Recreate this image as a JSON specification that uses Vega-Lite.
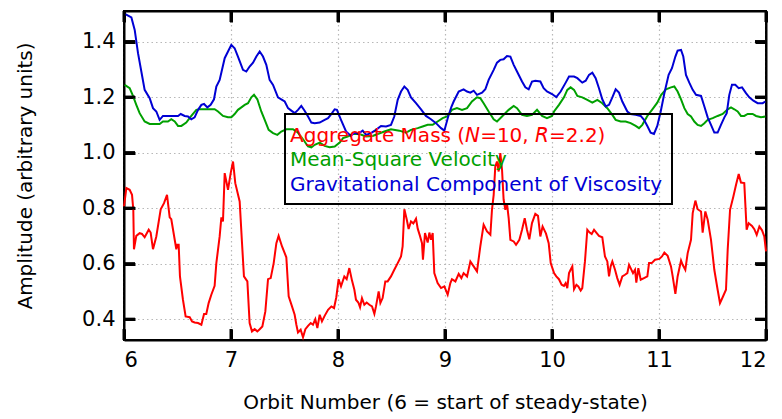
{
"$schema": "https://vega.github.io/schema/vega-lite/v6.json",
"width": 642, "height": 329,
"autosize": "none",
"padding": {"left": 124, "top": 11, "right": 16, "bottom": 79},
"background": "white",
"config": {
  "view": {"stroke": "black", "strokeWidth": 2},
  "legend": {"orient": "none", "legendX": 161, "legendY": 103, "title": null, "symbolSize": 625, "symbolOpacity": 0, "symbolStrokeWidth": 0, "labelOffset": -29, "labelFont": "DejaVu Sans", "labelFontSize": 20, "labelLimit": 0, "padding": 9, "rowPadding": 1.5, "strokeColor": "black"}
},
"datasets": {
"xticks": [{"v":6},{"v":7},{"v":8},{"v":9},{"v":10},{"v":11},{"v":12}],
"yticks": [{"v":0.4},{"v":0.6},{"v":0.8},{"v":1.0},{"v":1.2},{"v":1.4}],
"green": [
{"x":6.006,"y":1.244},{"x":6.053,"y":1.232},{"x":6.084,"y":1.204},{"x":6.115,"y":1.172},{"x":6.146,"y":1.142},{"x":6.193,"y":1.112},{"x":6.240,"y":1.103},{"x":6.333,"y":1.103},{"x":6.364,"y":1.112},{"x":6.411,"y":1.112},{"x":6.442,"y":1.120},{"x":6.474,"y":1.112},{"x":6.505,"y":1.096},{"x":6.536,"y":1.096},{"x":6.582,"y":1.108},{"x":6.629,"y":1.132},{"x":6.676,"y":1.154},{"x":6.707,"y":1.156},{"x":6.847,"y":1.156},{"x":6.879,"y":1.148},{"x":6.925,"y":1.132},{"x":6.972,"y":1.127},{"x":7.003,"y":1.127},{"x":7.034,"y":1.139},{"x":7.065,"y":1.154},{"x":7.097,"y":1.163},{"x":7.128,"y":1.172},{"x":7.159,"y":1.178},{"x":7.190,"y":1.199},{"x":7.215,"y":1.208},{"x":7.246,"y":1.192},{"x":7.283,"y":1.148},{"x":7.315,"y":1.118},{"x":7.352,"y":1.082},{"x":7.393,"y":1.070},{"x":7.433,"y":1.064},{"x":7.470,"y":1.076},{"x":7.517,"y":1.084},{"x":7.579,"y":1.084},{"x":7.626,"y":1.072},{"x":7.673,"y":1.048},{"x":7.720,"y":1.022},{"x":7.751,"y":1.019},{"x":7.782,"y":1.028},{"x":7.829,"y":1.036},{"x":7.875,"y":1.024},{"x":7.922,"y":1.019},{"x":7.969,"y":1.022},{"x":8.016,"y":1.036},{"x":8.047,"y":1.052},{"x":8.090,"y":1.058},{"x":8.137,"y":1.067},{"x":8.199,"y":1.067},{"x":8.262,"y":1.058},{"x":8.324,"y":1.060},{"x":8.371,"y":1.067},{"x":8.433,"y":1.076},{"x":8.495,"y":1.084},{"x":8.573,"y":1.079},{"x":8.636,"y":1.072},{"x":8.682,"y":1.082},{"x":8.745,"y":1.088},{"x":8.791,"y":1.094},{"x":8.838,"y":1.100},{"x":8.885,"y":1.100},{"x":8.931,"y":1.112},{"x":8.978,"y":1.124},{"x":9.019,"y":1.130},{"x":9.065,"y":1.154},{"x":9.112,"y":1.160},{"x":9.159,"y":1.154},{"x":9.206,"y":1.160},{"x":9.252,"y":1.184},{"x":9.299,"y":1.199},{"x":9.330,"y":1.196},{"x":9.361,"y":1.178},{"x":9.408,"y":1.148},{"x":9.455,"y":1.120},{"x":9.486,"y":1.112},{"x":9.533,"y":1.130},{"x":9.595,"y":1.154},{"x":9.642,"y":1.168},{"x":9.673,"y":1.160},{"x":9.720,"y":1.136},{"x":9.766,"y":1.132},{"x":9.813,"y":1.136},{"x":9.860,"y":1.154},{"x":9.907,"y":1.132},{"x":9.953,"y":1.124},{"x":10.000,"y":1.132},{"x":10.019,"y":1.148},{"x":10.065,"y":1.172},{"x":10.112,"y":1.199},{"x":10.143,"y":1.226},{"x":10.174,"y":1.235},{"x":10.206,"y":1.226},{"x":10.237,"y":1.204},{"x":10.283,"y":1.199},{"x":10.330,"y":1.190},{"x":10.377,"y":1.180},{"x":10.424,"y":1.190},{"x":10.470,"y":1.178},{"x":10.517,"y":1.160},{"x":10.564,"y":1.136},{"x":10.595,"y":1.118},{"x":10.642,"y":1.112},{"x":10.688,"y":1.112},{"x":10.735,"y":1.106},{"x":10.782,"y":1.096},{"x":10.813,"y":1.088},{"x":10.844,"y":1.100},{"x":10.891,"y":1.132},{"x":10.938,"y":1.156},{"x":10.984,"y":1.180},{"x":11.019,"y":1.207},{"x":11.065,"y":1.228},{"x":11.112,"y":1.235},{"x":11.143,"y":1.238},{"x":11.174,"y":1.220},{"x":11.206,"y":1.192},{"x":11.237,"y":1.160},{"x":11.268,"y":1.139},{"x":11.299,"y":1.130},{"x":11.330,"y":1.112},{"x":11.361,"y":1.100},{"x":11.393,"y":1.096},{"x":11.424,"y":1.106},{"x":11.455,"y":1.118},{"x":11.502,"y":1.124},{"x":11.548,"y":1.132},{"x":11.595,"y":1.139},{"x":11.642,"y":1.156},{"x":11.673,"y":1.163},{"x":11.704,"y":1.156},{"x":11.735,"y":1.148},{"x":11.766,"y":1.132},{"x":11.797,"y":1.132},{"x":11.829,"y":1.139},{"x":11.875,"y":1.139},{"x":11.907,"y":1.132},{"x":11.953,"y":1.127},{"x":11.994,"y":1.130}
],
"blue": [
{"x":6.012,"y":1.499},{"x":6.069,"y":1.487},{"x":6.100,"y":1.442},{"x":6.131,"y":1.358},{"x":6.162,"y":1.292},{"x":6.193,"y":1.226},{"x":6.240,"y":1.196},{"x":6.271,"y":1.160},{"x":6.302,"y":1.148},{"x":6.333,"y":1.118},{"x":6.364,"y":1.132},{"x":6.505,"y":1.132},{"x":6.530,"y":1.139},{"x":6.567,"y":1.132},{"x":6.598,"y":1.130},{"x":6.629,"y":1.120},{"x":6.660,"y":1.127},{"x":6.692,"y":1.154},{"x":6.723,"y":1.172},{"x":6.748,"y":1.175},{"x":6.779,"y":1.163},{"x":6.810,"y":1.172},{"x":6.841,"y":1.192},{"x":6.863,"y":1.238},{"x":6.894,"y":1.262},{"x":6.941,"y":1.340},{"x":6.972,"y":1.364},{"x":7.003,"y":1.388},{"x":7.034,"y":1.376},{"x":7.065,"y":1.346},{"x":7.112,"y":1.298},{"x":7.143,"y":1.292},{"x":7.174,"y":1.310},{"x":7.206,"y":1.324},{"x":7.237,"y":1.346},{"x":7.268,"y":1.364},{"x":7.299,"y":1.346},{"x":7.330,"y":1.316},{"x":7.361,"y":1.262},{"x":7.393,"y":1.244},{"x":7.439,"y":1.199},{"x":7.470,"y":1.192},{"x":7.502,"y":1.184},{"x":7.533,"y":1.160},{"x":7.564,"y":1.151},{"x":7.595,"y":1.142},{"x":7.626,"y":1.154},{"x":7.657,"y":1.168},{"x":7.688,"y":1.151},{"x":7.720,"y":1.130},{"x":7.751,"y":1.108},{"x":7.782,"y":1.106},{"x":7.829,"y":1.108},{"x":7.875,"y":1.118},{"x":7.907,"y":1.124},{"x":7.944,"y":1.142},{"x":7.969,"y":1.156},{"x":7.990,"y":1.154},{"x":8.028,"y":1.118},{"x":8.075,"y":1.076},{"x":8.121,"y":1.060},{"x":8.153,"y":1.072},{"x":8.184,"y":1.067},{"x":8.231,"y":1.079},{"x":8.262,"y":1.064},{"x":8.308,"y":1.070},{"x":8.355,"y":1.082},{"x":8.402,"y":1.096},{"x":8.449,"y":1.094},{"x":8.495,"y":1.100},{"x":8.526,"y":1.130},{"x":8.558,"y":1.190},{"x":8.589,"y":1.220},{"x":8.620,"y":1.238},{"x":8.651,"y":1.226},{"x":8.682,"y":1.199},{"x":8.729,"y":1.178},{"x":8.776,"y":1.156},{"x":8.822,"y":1.132},{"x":8.869,"y":1.120},{"x":8.916,"y":1.106},{"x":8.963,"y":1.088},{"x":8.994,"y":1.079},{"x":9.030,"y":1.130},{"x":9.060,"y":1.165},{"x":9.081,"y":1.184},{"x":9.128,"y":1.220},{"x":9.174,"y":1.228},{"x":9.206,"y":1.220},{"x":9.237,"y":1.216},{"x":9.268,"y":1.223},{"x":9.299,"y":1.208},{"x":9.346,"y":1.216},{"x":9.377,"y":1.228},{"x":9.408,"y":1.262},{"x":9.455,"y":1.298},{"x":9.486,"y":1.324},{"x":9.517,"y":1.334},{"x":9.548,"y":1.336},{"x":9.579,"y":1.348},{"x":9.611,"y":1.346},{"x":9.642,"y":1.316},{"x":9.673,"y":1.292},{"x":9.720,"y":1.256},{"x":9.751,"y":1.235},{"x":9.782,"y":1.228},{"x":9.813,"y":1.256},{"x":9.844,"y":1.259},{"x":9.891,"y":1.256},{"x":9.922,"y":1.232},{"x":9.953,"y":1.220},{"x":10.000,"y":1.211},{"x":10.040,"y":1.200},{"x":10.081,"y":1.220},{"x":10.128,"y":1.252},{"x":10.159,"y":1.274},{"x":10.206,"y":1.274},{"x":10.237,"y":1.268},{"x":10.283,"y":1.252},{"x":10.315,"y":1.259},{"x":10.346,"y":1.280},{"x":10.377,"y":1.288},{"x":10.408,"y":1.268},{"x":10.439,"y":1.232},{"x":10.470,"y":1.192},{"x":10.502,"y":1.166},{"x":10.533,"y":1.172},{"x":10.564,"y":1.199},{"x":10.595,"y":1.228},{"x":10.626,"y":1.216},{"x":10.657,"y":1.184},{"x":10.704,"y":1.148},{"x":10.735,"y":1.139},{"x":10.782,"y":1.136},{"x":10.829,"y":1.132},{"x":10.860,"y":1.118},{"x":10.891,"y":1.096},{"x":10.922,"y":1.072},{"x":10.953,"y":1.067},{"x":10.984,"y":1.096},{"x":11.016,"y":1.148},{"x":11.050,"y":1.214},{"x":11.090,"y":1.280},{"x":11.121,"y":1.304},{"x":11.153,"y":1.346},{"x":11.174,"y":1.367},{"x":11.206,"y":1.370},{"x":11.227,"y":1.346},{"x":11.252,"y":1.280},{"x":11.283,"y":1.252},{"x":11.315,"y":1.226},{"x":11.346,"y":1.208},{"x":11.393,"y":1.204},{"x":11.424,"y":1.166},{"x":11.455,"y":1.127},{"x":11.486,"y":1.100},{"x":11.517,"y":1.072},{"x":11.548,"y":1.072},{"x":11.579,"y":1.100},{"x":11.611,"y":1.127},{"x":11.633,"y":1.142},{"x":11.657,"y":1.208},{"x":11.682,"y":1.244},{"x":11.713,"y":1.244},{"x":11.745,"y":1.232},{"x":11.776,"y":1.235},{"x":11.813,"y":1.214},{"x":11.844,"y":1.199},{"x":11.882,"y":1.187},{"x":11.922,"y":1.178},{"x":11.969,"y":1.178},{"x":11.994,"y":1.184}
],
"red": [
{"x":6.000,"y":0.806},{"x":6.022,"y":0.872},{"x":6.053,"y":0.866},{"x":6.075,"y":0.848},{"x":6.087,"y":0.794},{"x":6.093,"y":0.652},{"x":6.115,"y":0.700},{"x":6.146,"y":0.710},{"x":6.168,"y":0.707},{"x":6.193,"y":0.695},{"x":6.231,"y":0.722},{"x":6.249,"y":0.712},{"x":6.271,"y":0.652},{"x":6.302,"y":0.698},{"x":6.343,"y":0.796},{"x":6.374,"y":0.818},{"x":6.402,"y":0.848},{"x":6.427,"y":0.767},{"x":6.442,"y":0.760},{"x":6.474,"y":0.686},{"x":6.489,"y":0.652},{"x":6.498,"y":0.668},{"x":6.511,"y":0.668},{"x":6.523,"y":0.554},{"x":6.551,"y":0.470},{"x":6.576,"y":0.410},{"x":6.614,"y":0.407},{"x":6.636,"y":0.392},{"x":6.660,"y":0.388},{"x":6.692,"y":0.386},{"x":6.723,"y":0.380},{"x":6.748,"y":0.419},{"x":6.769,"y":0.419},{"x":6.791,"y":0.458},{"x":6.816,"y":0.488},{"x":6.847,"y":0.520},{"x":6.863,"y":0.602},{"x":6.894,"y":0.698},{"x":6.910,"y":0.767},{"x":6.925,"y":0.752},{"x":6.941,"y":0.926},{"x":6.972,"y":0.866},{"x":6.997,"y":0.926},{"x":7.019,"y":0.968},{"x":7.040,"y":0.890},{"x":7.081,"y":0.824},{"x":7.103,"y":0.674},{"x":7.121,"y":0.554},{"x":7.153,"y":0.536},{"x":7.174,"y":0.386},{"x":7.196,"y":0.356},{"x":7.221,"y":0.364},{"x":7.246,"y":0.356},{"x":7.268,"y":0.364},{"x":7.293,"y":0.374},{"x":7.321,"y":0.428},{"x":7.346,"y":0.544},{"x":7.371,"y":0.548},{"x":7.399,"y":0.602},{"x":7.424,"y":0.674},{"x":7.445,"y":0.700},{"x":7.477,"y":0.662},{"x":7.517,"y":0.623},{"x":7.539,"y":0.482},{"x":7.570,"y":0.446},{"x":7.595,"y":0.416},{"x":7.611,"y":0.380},{"x":7.626,"y":0.352},{"x":7.651,"y":0.362},{"x":7.673,"y":0.335},{"x":7.695,"y":0.364},{"x":7.720,"y":0.376},{"x":7.745,"y":0.386},{"x":7.766,"y":0.380},{"x":7.788,"y":0.400},{"x":7.807,"y":0.368},{"x":7.829,"y":0.416},{"x":7.850,"y":0.392},{"x":7.875,"y":0.412},{"x":7.907,"y":0.434},{"x":7.938,"y":0.446},{"x":7.963,"y":0.440},{"x":7.984,"y":0.479},{"x":8.006,"y":0.544},{"x":8.028,"y":0.518},{"x":8.059,"y":0.554},{"x":8.081,"y":0.544},{"x":8.106,"y":0.584},{"x":8.131,"y":0.539},{"x":8.153,"y":0.506},{"x":8.168,"y":0.470},{"x":8.190,"y":0.460},{"x":8.206,"y":0.443},{"x":8.224,"y":0.476},{"x":8.246,"y":0.452},{"x":8.268,"y":0.460},{"x":8.293,"y":0.452},{"x":8.318,"y":0.446},{"x":8.340,"y":0.419},{"x":8.355,"y":0.446},{"x":8.380,"y":0.500},{"x":8.396,"y":0.458},{"x":8.417,"y":0.476},{"x":8.442,"y":0.536},{"x":8.464,"y":0.536},{"x":8.495,"y":0.554},{"x":8.526,"y":0.578},{"x":8.558,"y":0.602},{"x":8.589,"y":0.626},{"x":8.604,"y":0.662},{"x":8.620,"y":0.796},{"x":8.642,"y":0.760},{"x":8.660,"y":0.725},{"x":8.682,"y":0.752},{"x":8.704,"y":0.745},{"x":8.729,"y":0.762},{"x":8.745,"y":0.726},{"x":8.766,"y":0.700},{"x":8.785,"y":0.674},{"x":8.794,"y":0.614},{"x":8.813,"y":0.710},{"x":8.838,"y":0.676},{"x":8.854,"y":0.712},{"x":8.869,"y":0.686},{"x":8.885,"y":0.710},{"x":8.900,"y":0.566},{"x":8.931,"y":0.530},{"x":8.963,"y":0.512},{"x":8.994,"y":0.518},{"x":9.025,"y":0.488},{"x":9.050,"y":0.530},{"x":9.065,"y":0.544},{"x":9.097,"y":0.536},{"x":9.128,"y":0.563},{"x":9.153,"y":0.548},{"x":9.174,"y":0.566},{"x":9.206,"y":0.554},{"x":9.237,"y":0.608},{"x":9.268,"y":0.590},{"x":9.299,"y":0.572},{"x":9.330,"y":0.662},{"x":9.361,"y":0.740},{"x":9.393,"y":0.716},{"x":9.424,"y":0.704},{"x":9.439,"y":0.794},{"x":9.455,"y":0.848},{"x":9.470,"y":0.950},{"x":9.486,"y":0.968},{"x":9.502,"y":0.932},{"x":9.517,"y":0.998},{"x":9.533,"y":0.938},{"x":9.548,"y":0.830},{"x":9.564,"y":0.794},{"x":9.579,"y":0.818},{"x":9.595,"y":0.764},{"x":9.611,"y":0.686},{"x":9.642,"y":0.680},{"x":9.664,"y":0.668},{"x":9.695,"y":0.686},{"x":9.720,"y":0.722},{"x":9.745,"y":0.764},{"x":9.766,"y":0.722},{"x":9.788,"y":0.688},{"x":9.813,"y":0.746},{"x":9.844,"y":0.779},{"x":9.869,"y":0.772},{"x":9.891,"y":0.698},{"x":9.912,"y":0.734},{"x":9.944,"y":0.708},{"x":9.969,"y":0.674},{"x":9.988,"y":0.602},{"x":10.019,"y":0.566},{"x":10.040,"y":0.554},{"x":10.065,"y":0.544},{"x":10.090,"y":0.524},{"x":10.112,"y":0.520},{"x":10.128,"y":0.530},{"x":10.143,"y":0.512},{"x":10.159,"y":0.566},{"x":10.174,"y":0.578},{"x":10.190,"y":0.590},{"x":10.206,"y":0.508},{"x":10.228,"y":0.524},{"x":10.246,"y":0.518},{"x":10.268,"y":0.503},{"x":10.283,"y":0.512},{"x":10.308,"y":0.608},{"x":10.330,"y":0.722},{"x":10.352,"y":0.712},{"x":10.371,"y":0.707},{"x":10.393,"y":0.722},{"x":10.414,"y":0.712},{"x":10.439,"y":0.700},{"x":10.470,"y":0.695},{"x":10.495,"y":0.626},{"x":10.517,"y":0.608},{"x":10.533,"y":0.554},{"x":10.548,"y":0.590},{"x":10.564,"y":0.608},{"x":10.589,"y":0.578},{"x":10.610,"y":0.548},{"x":10.632,"y":0.524},{"x":10.657,"y":0.554},{"x":10.682,"y":0.560},{"x":10.704,"y":0.566},{"x":10.720,"y":0.596},{"x":10.735,"y":0.584},{"x":10.757,"y":0.566},{"x":10.776,"y":0.578},{"x":10.788,"y":0.532},{"x":10.807,"y":0.584},{"x":10.829,"y":0.542},{"x":10.860,"y":0.548},{"x":10.891,"y":0.554},{"x":10.907,"y":0.602},{"x":10.932,"y":0.602},{"x":10.963,"y":0.614},{"x":11.003,"y":0.617},{"x":11.028,"y":0.626},{"x":11.050,"y":0.640},{"x":11.081,"y":0.628},{"x":11.112,"y":0.590},{"x":11.128,"y":0.554},{"x":11.153,"y":0.491},{"x":11.174,"y":0.554},{"x":11.206,"y":0.611},{"x":11.221,"y":0.596},{"x":11.246,"y":0.578},{"x":11.268,"y":0.638},{"x":11.299,"y":0.686},{"x":11.315,"y":0.782},{"x":11.340,"y":0.827},{"x":11.361,"y":0.796},{"x":11.393,"y":0.788},{"x":11.408,"y":0.712},{"x":11.433,"y":0.788},{"x":11.455,"y":0.758},{"x":11.486,"y":0.686},{"x":11.517,"y":0.578},{"x":11.548,"y":0.506},{"x":11.570,"y":0.458},{"x":11.595,"y":0.479},{"x":11.626,"y":0.506},{"x":11.642,"y":0.650},{"x":11.664,"y":0.794},{"x":11.695,"y":0.842},{"x":11.720,"y":0.884},{"x":11.745,"y":0.923},{"x":11.766,"y":0.892},{"x":11.797,"y":0.890},{"x":11.819,"y":0.722},{"x":11.838,"y":0.746},{"x":11.869,"y":0.736},{"x":11.891,"y":0.724},{"x":11.913,"y":0.704},{"x":11.938,"y":0.734},{"x":11.963,"y":0.720},{"x":11.984,"y":0.698},{"x":12.000,"y":0.644}
]
},
"layer": [
{
  "data": {"name": "green"},
  "mark": {"type": "line", "strokeWidth": 2},
  "encoding": {
    "x": {"field": "x", "type": "quantitative", "scale": {"domain": [6, 12], "nice": false}, "axis": {"orient": "bottom", "values": [6,7,8,9,10,11,12], "format": "d", "grid": true, "gridColor": "#b8b8b8", "gridDash": [1.5, 3], "gridWidth": 1.2, "domainColor": "black", "domainWidth": 2, "tickColor": "black", "tickSize": -11, "tickWidth": 3, "labelPadding": 20, "labelFont": "DejaVu Sans", "labelFontSize": 21, "labelColor": "black", "titleFont": "DejaVu Sans", "titleFontSize": 20, "titleFontWeight": "normal", "titleColor": "black", "title": "Orbit Number (6 = start of steady-state)", "titlePadding": 22}},
    "y": {"field": "y", "type": "quantitative", "scale": {"domain": [0.325, 1.51], "nice": false, "zero": false}, "axis": {"orient": "left", "values": [0.4,0.6,0.8,1.0,1.2,1.4], "format": ".1f", "grid": true, "gridColor": "#b8b8b8", "gridDash": [1.5, 3], "gridWidth": 1.2, "domainColor": "black", "domainWidth": 2, "tickColor": "black", "tickSize": -11, "tickWidth": 3, "labelPadding": 20, "labelFont": "DejaVu Sans", "labelFontSize": 21, "labelColor": "black", "titleFont": "DejaVu Sans", "titleFontSize": 20, "titleFontWeight": "normal", "titleColor": "black", "title": "Amplitude (arbitrary units)", "titlePadding": 46}},
    "color": {"datum": "Mean-Square Velocity", "type": "nominal",
      "scale": {"domain": ["Aggregate Mass (\ud835\ude15=10, \ud835\ude19=2.2)", "Mean-Square Velocity", "Gravitational Component of Viscosity"], "range": ["#ff0000", "#00a000", "#0000d4"]},
      "legend": {"encode": {"labels": {"update": {"fill": {"scale": "color", "field": "value"}}}, "legend": {"update": {"stroke": {"value": "black"}, "strokeWidth": {"value": 2}}}}}}
  }
},
{
  "data": {"name": "blue"},
  "mark": {"type": "line", "strokeWidth": 2},
  "encoding": {
    "x": {"field": "x", "type": "quantitative", "axis": {"orient": "top", "values": [6,7,8,9,10,11,12], "labels": false, "grid": false, "domainColor": "black", "domainWidth": 2, "tickColor": "black", "tickSize": -11, "tickWidth": 3, "title": null}},
    "y": {"field": "y", "type": "quantitative", "axis": {"orient": "right", "values": [0.4,0.6,0.8,1.0,1.2,1.4], "labels": false, "grid": false, "domainColor": "black", "domainWidth": 2, "tickColor": "black", "tickSize": -11, "tickWidth": 3, "title": null}},
    "color": {"datum": "Gravitational Component of Viscosity", "type": "nominal"}
  }
},
{
  "data": {"name": "red"},
  "mark": {"type": "line", "strokeWidth": 2},
  "encoding": {
    "x": {"field": "x", "type": "quantitative", "axis": null},
    "y": {"field": "y", "type": "quantitative", "axis": null},
    "color": {"datum": "Aggregate Mass (\ud835\ude15=10, \ud835\ude19=2.2)", "type": "nominal"}
  }
},
{
  "data": {"name": "xticks"},
  "mark": {"type": "rule", "color": "black", "strokeWidth": 3},
  "encoding": {
    "x": {"field": "v", "type": "quantitative", "axis": null},
    "y": {"datum": 0.325, "type": "quantitative", "axis": null},
    "y2": {"datum": 0.3646}
  }
},
{
  "data": {"name": "xticks"},
  "mark": {"type": "rule", "color": "black", "strokeWidth": 3},
  "encoding": {
    "x": {"field": "v", "type": "quantitative", "axis": null},
    "y": {"datum": 1.51, "type": "quantitative", "axis": null},
    "y2": {"datum": 1.4704}
  }
},
{
  "data": {"name": "yticks"},
  "mark": {"type": "rule", "color": "black", "strokeWidth": 3},
  "encoding": {
    "y": {"field": "v", "type": "quantitative", "axis": null},
    "x": {"datum": 6, "type": "quantitative", "axis": null},
    "x2": {"datum": 6.1028}
  }
},
{
  "data": {"name": "yticks"},
  "mark": {"type": "rule", "color": "black", "strokeWidth": 3},
  "encoding": {
    "y": {"field": "v", "type": "quantitative", "axis": null},
    "x": {"datum": 12, "type": "quantitative", "axis": null},
    "x2": {"datum": 11.8972}
  }
}
],
"resolve": {"axis": {"x": "independent", "y": "independent"}}
}
